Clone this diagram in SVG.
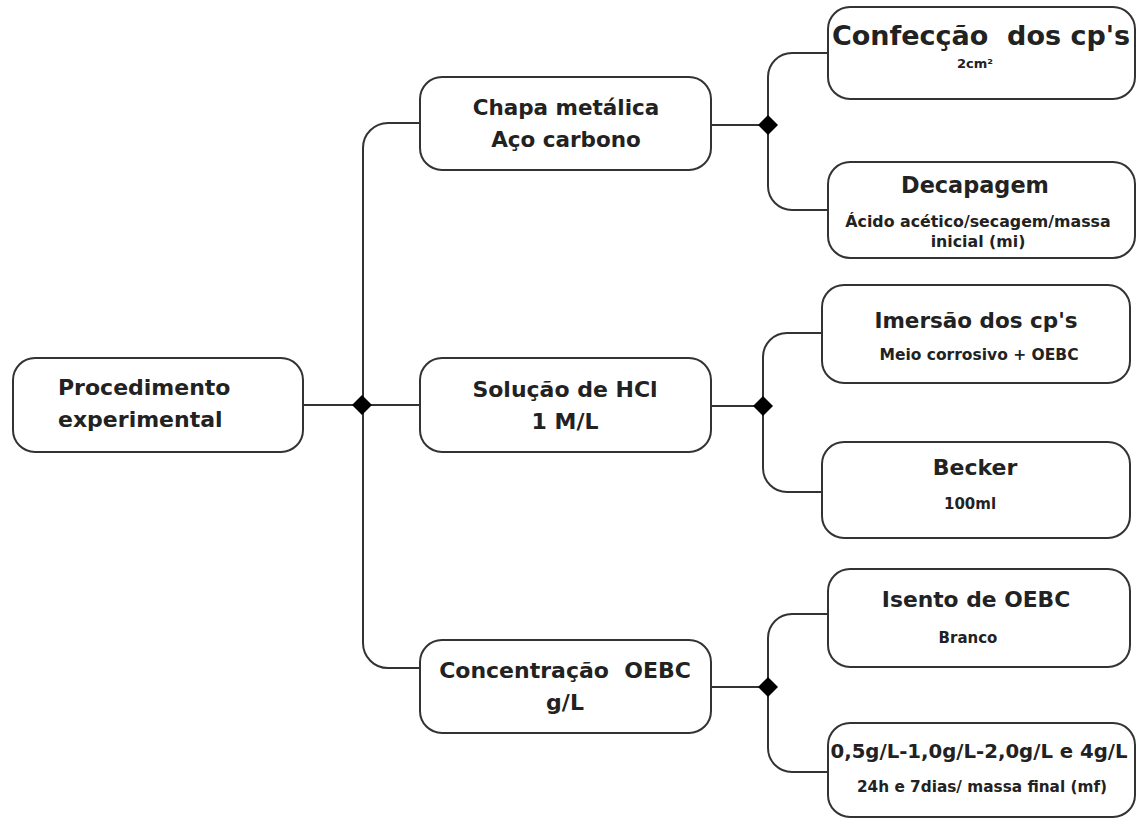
<svg xmlns="http://www.w3.org/2000/svg" width="1138" height="819" viewBox="0 0 1138 819">
<style>
.box{fill:#fff;stroke:#333;stroke-width:2}
.t{font-family:"DejaVu Sans","Liberation Sans",sans-serif;font-weight:bold;fill:#222;text-anchor:middle}
.conn{fill:none;stroke:#333;stroke-width:2}
.dia{fill:#000}
</style>
<defs>
<path id="d" d="M0,-10 L10,0 L0,10 L-10,0 Z"/>
</defs>
<rect width="1138" height="819" fill="#fff"/>
<g id="connectors">
<path class="conn" d="M303,405 H420"/>
<path class="conn" d="M420,123 H388 A25,25 0 0 0 363,148 V643 A25,25 0 0 0 388,668 H420"/>
<path class="conn" d="M711,125 H768"/>
<path class="conn" d="M828,53 H792 A24,24 0 0 0 768,77 V186 A24,24 0 0 0 792,210 H828"/>
<path class="conn" d="M711,406 H763"/>
<path class="conn" d="M822,333 H787 A24,24 0 0 0 763,357 V468 A24,24 0 0 0 787,492 H822"/>
<path class="conn" d="M711,687 H768"/>
<path class="conn" d="M828,614 H792 A24,24 0 0 0 768,638 V748 A24,24 0 0 0 792,772 H828"/>
<use href="#d" class="dia" x="362" y="405"/>
<use href="#d" class="dia" x="768" y="125"/>
<use href="#d" class="dia" x="763" y="406"/>
<use href="#d" class="dia" x="768" y="687"/>
</g>
<g id="procedimento">
<rect class="box" x="13" y="358" width="290" height="94" rx="22"/>
<text class="t" x="58" y="395" font-size="22" style="text-anchor:start">Procedimento</text>
<text class="t" x="58" y="427" font-size="22" style="text-anchor:start">experimental</text>
</g>
<g id="chapa">
<rect class="box" x="420" y="77" width="291" height="93" rx="22"/>
<text class="t" x="566" y="115" font-size="21.5">Chapa metálica</text>
<text class="t" x="566" y="147" font-size="21.5">Aço carbono</text>
</g>
<g id="solucao">
<rect class="box" x="420" y="358" width="291" height="94" rx="22"/>
<text class="t" x="565" y="397" font-size="22">Solução de HCl</text>
<text class="t" x="565" y="429" font-size="22">1 M/L</text>
</g>
<g id="concentracao">
<rect class="box" x="420" y="640" width="291" height="93" rx="22"/>
<text class="t" x="565" y="678" font-size="22" xml:space="preserve">Concentração  OEBC</text>
<text class="t" x="565" y="710" font-size="22">g/L</text>
</g>
<g id="confeccao">
<rect class="box" x="828" y="7" width="307" height="92" rx="22"/>
<text class="t" x="981" y="45" font-size="27" xml:space="preserve">Confecção  dos cp's</text>
<text class="t" x="975" y="68" font-size="13">2cm²</text>
</g>
<g id="decapagem">
<rect class="box" x="828" y="162" width="307" height="96" rx="22"/>
<text class="t" x="975" y="193" font-size="22.4">Decapagem</text>
<text class="t" x="978" y="227" font-size="15.8">Ácido acético/secagem/massa</text>
<text class="t" x="978" y="247" font-size="15.8">inicial (mi)</text>
</g>
<g id="imersao">
<rect class="box" x="822" y="285" width="308" height="98" rx="22"/>
<text class="t" x="976" y="328" font-size="21.5">Imersão dos cp's</text>
<text class="t" x="979" y="360" font-size="15.5">Meio corrosivo + OEBC</text>
</g>
<g id="becker">
<rect class="box" x="822" y="442" width="308" height="96" rx="22"/>
<text class="t" x="975" y="475" font-size="22">Becker</text>
<text class="t" x="970" y="509" font-size="15">100ml</text>
</g>
<g id="isento">
<rect class="box" x="828" y="569" width="302" height="98" rx="22"/>
<text class="t" x="976" y="607" font-size="21.8">Isento de OEBC</text>
<text class="t" x="968" y="643" font-size="15">Branco</text>
</g>
<g id="valores">
<rect class="box" x="828" y="723" width="307" height="94" rx="22"/>
<text class="t" x="979" y="758" font-size="19.7">0,5g/L-1,0g/L-2,0g/L e 4g/L</text>
<text class="t" x="982" y="792" font-size="15.3">24h e 7dias/ massa final (mf)</text>
</g>
</svg>
